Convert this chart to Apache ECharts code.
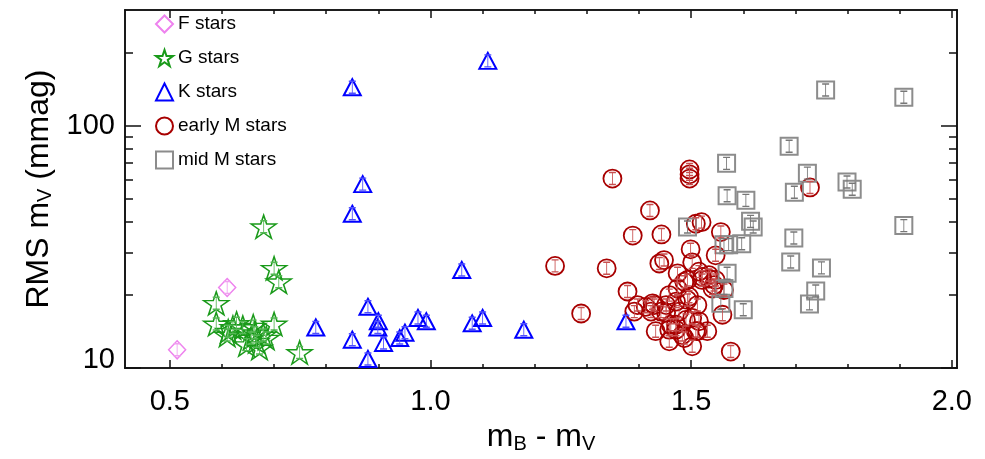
<!DOCTYPE html>
<html lang="en">
<head>
  <meta charset="UTF-8">
  <title>RMS vs colour</title>
  <script src="https://cdn.jsdelivr.net/npm/echarts@6.0.0/dist/echarts.min.js"></script>
  <style>
    html, body { margin: 0; padding: 0; background: #fff; }
    #chart { width: 985px; height: 459px; }
  </style>
</head>
<body>
  <div id="chart"></div>
  <script>
    // [m_B - m_V, RMS in mmag]
    const fStars = [[0.514, 11.9], [0.610, 21.5]];
    const gStars = [
      [0.680, 38.3], [0.700, 25.8], [0.709, 22.7], [0.589, 18.5], [0.589, 15.2],
      [0.610, 13.7], [0.612, 14.2], [0.621, 14.7], [0.628, 15.3], [0.640, 14.7],
      [0.656, 13.3], [0.660, 14.9], [0.663, 14.0], [0.647, 12.5], [0.666, 12.9],
      [0.672, 12.1], [0.679, 13.7], [0.685, 13.3], [0.700, 15.2], [0.749, 11.6]
    ];
    const kStars = [
      [0.780, 14.7], [0.850, 144], [0.850, 43.3], [0.850, 13.1], [0.870, 57.4],
      [0.880, 17.9], [0.880, 10.9], [0.899, 14.7], [0.900, 15.6], [0.910, 12.7],
      [0.941, 13.3], [0.951, 14.0], [0.976, 16.1], [0.992, 15.6], [1.060, 25.4],
      [1.080, 15.3], [1.100, 16.1], [1.110, 185], [1.179, 14.4], [1.375, 15.6]
    ];
    const earlyM = [
      [1.349, 60.5], [1.497, 66.0], [1.497, 63.0], [1.497, 60.5], [1.421, 44.7],
      [1.388, 35.2], [1.443, 35.6], [1.509, 39.4], [1.520, 40.0], [1.557, 36.4],
      [1.239, 26.4], [1.338, 25.8], [1.439, 27.0], [1.448, 27.9], [1.499, 30.9],
      [1.502, 27.3], [1.547, 29.2], [1.378, 20.7], [1.474, 24.6], [1.487, 22.7],
      [1.515, 25.0], [1.534, 24.2], [1.521, 23.1], [1.544, 22.0], [1.563, 21.0],
      [1.289, 16.8], [1.397, 18.2], [1.391, 17.1], [1.426, 18.5], [1.423, 17.1],
      [1.458, 20.0], [1.471, 18.8], [1.496, 19.7], [1.512, 18.2], [1.452, 16.9],
      [1.477, 17.1], [1.432, 14.2], [1.461, 15.1], [1.471, 14.4], [1.490, 15.8],
      [1.502, 16.1], [1.515, 15.6], [1.531, 14.2], [1.458, 12.9], [1.502, 12.3],
      [1.560, 16.6], [1.576, 11.7], [1.487, 13.3], [1.509, 14.2], [1.728, 55.6],
      [1.534, 23.4], [1.521, 23.8], [1.474, 21.3], [1.493, 23.1], [1.452, 18.2],
      [1.493, 19.1], [1.471, 15.1], [1.458, 14.4], [1.483, 13.7], [1.512, 14.2],
      [1.547, 23.1], [1.541, 21.3], [1.429, 18.2], [1.413, 17.9], [1.442, 17.1]
    ];
    const midM = [
      [1.758, 140.3], [1.908, 131.0], [1.688, 82.3], [1.568, 69.9], [1.723, 63.7],
      [1.799, 58.6], [1.809, 54.7], [1.698, 53.1], [1.569, 51.4], [1.605, 49.2],
      [1.614, 40.3], [1.619, 38.2], [1.493, 38.2], [1.908, 38.7], [1.697, 34.4],
      [1.563, 32.3], [1.572, 32.3], [1.597, 32.6], [1.691, 27.4], [1.750, 25.9],
      [1.569, 24.6], [1.739, 20.8], [1.727, 18.4], [1.557, 18.5], [1.600, 17.4],
      [1.563, 21.3]
    ];

    const xMajor = [0.5, 1.0, 1.5, 2.0];
    const xMinor = [0.6, 0.7, 0.8, 0.9, 1.1, 1.2, 1.3, 1.4, 1.6, 1.7, 1.8, 1.9];
    const yMajor = [10, 100];
    const yMinor = [20, 30, 40, 50, 60, 70, 80, 90, 200];

    const font = "'Liberation Sans', Arial, sans-serif";
    const starPath = 'path://M50,0 L61.23,34.55 L97.55,34.55 L68.17,55.9 L79.39,90.45 L50,69.1 L20.61,90.45 L31.83,55.9 L2.45,34.55 L38.77,34.55 Z';
    const barPath = 'path://M0,0 L6,0 M3,0 L3,12 M0,12 L6,12';

    const X_MIN = 0.414, X_MAX = 2.01, Y_MIN = 10, Y_MAX = 300;

    function xAxisDef(pos, ticks, len, labels) {
      return {
        type: 'value', position: pos, min: X_MIN, max: X_MAX,
        axisLine: { show: true, onZero: false, lineStyle: { color: '#111', width: 1.6 } },
        axisTick: { show: true, inside: true, length: len, customValues: ticks,
                    lineStyle: { color: '#111', width: 1.5 } },
        axisLabel: labels ? {
          show: true, customValues: xMajor, margin: 19, color: '#000',
          fontSize: 29, fontFamily: font, formatter: v => v.toFixed(1)
        } : { show: false },
        splitLine: { show: false }
      };
    }

    function yAxisDef(pos, ticks, len, labels) {
      return {
        type: 'log', logBase: 10, position: pos, min: Y_MIN, max: Y_MAX,
        axisLine: { show: true, onZero: false, lineStyle: { color: '#111', width: 1.6 } },
        axisTick: { show: true, inside: true, length: len, customValues: ticks,
                    lineStyle: { color: '#111', width: 1.5 } },
        axisLabel: labels ? {
          show: true, customValues: yMajor, margin: 10, color: '#000',
          fontSize: 29, fontFamily: font,
          formatter: v => (Math.round(v) === 10 ? '{lo|10}' : String(Math.round(v))),
          rich: { lo: { fontSize: 29, fontFamily: font, color: '#000', padding: [0, 0, 16, 0] } }
        } : { show: false },
        splitLine: { show: false }
      };
    }

    function markers(name, data, symbol, size, color, width) {
      return {
        name: name, type: 'scatter', data: data, symbol: symbol, symbolSize: size,
        xAxisIndex: 0, yAxisIndex: 0,
        itemStyle: { color: 'rgba(0,0,0,0)', borderColor: color, borderWidth: width, opacity: 1 },
        emphasis: { disabled: true }
      };
    }

    function errBars(data, color) {
      return {
        type: 'scatter', data: data, symbol: barPath, symbolSize: [7, 12],
        xAxisIndex: 0, yAxisIndex: 0, silent: true,
        itemStyle: { color: 'rgba(0,0,0,0)', borderColor: color, borderWidth: 1.1, opacity: 1 },
        emphasis: { disabled: true }
      };
    }

    const titleRich = {
      t: { fontSize: 32, fontFamily: font, color: '#000', lineHeight: 34 },
      s: { fontSize: 20, fontFamily: font, color: '#000', lineHeight: 10, verticalAlign: 'bottom' }
    };

    const chart = echarts.init(document.getElementById('chart'), null, { renderer: 'canvas' });

    const option = {
      animation: false,
      backgroundColor: '#fff',
      grid: { left: 125, right: 28, top: 10, bottom: 88 },
      legend: {
        orient: 'vertical', left: 150, top: 9,
        itemWidth: 17, itemHeight: 17, itemGap: 14, selectedMode: false,
        textStyle: { fontSize: 19, fontFamily: font, color: '#000', lineHeight: 20 },
        data: ['F stars', 'G stars', 'K stars', 'early M stars', 'mid M stars']
      },
      xAxis: [
        Object.assign(xAxisDef('bottom', xMajor, 8, true), {
          name: '{t|m}{s|B}{t| - m}{s|V}', nameLocation: 'middle', nameGap: 42,
          nameTextStyle: { rich: titleRich }
        }),
        xAxisDef('bottom', xMinor, 4, false),
        xAxisDef('top', xMajor, 8, false),
        xAxisDef('top', xMinor, 4, false)
      ],
      yAxis: [
        Object.assign(yAxisDef('left', yMajor, 16, true), {
          name: '{t|RMS m}{s|V}{t| (mmag)}', nameLocation: 'middle', nameGap: 67, nameRotate: 90,
          nameTextStyle: { rich: titleRich }
        }),
        yAxisDef('left', yMinor, 8, false),
        yAxisDef('right', yMajor, 16, false),
        yAxisDef('right', yMinor, 8, false)
      ],
      series: [
        markers('F stars', fStars, 'diamond', [17, 18], '#ee82ee', 1.5),
        markers('G stars', gStars, starPath, [25, 23], '#1a9a1a', 1.5),
        markers('K stars', kStars, 'triangle', [17, 16], '#0000ff', 2),
        markers('early M stars', earlyM, 'circle', 18, '#a80000', 1.8),
        markers('mid M stars', midM, 'rect', 17, '#8c8c8c', 2),
        errBars(fStars, '#f0a0f0'),
        errBars(gStars, '#55b855'),
        errBars(kStars, '#5050ff'),
        errBars(earlyM, '#c85050'),
        errBars(midM, '#777777')
      ]
    };

    chart.setOption(option);
  </script>
</body>
</html>
